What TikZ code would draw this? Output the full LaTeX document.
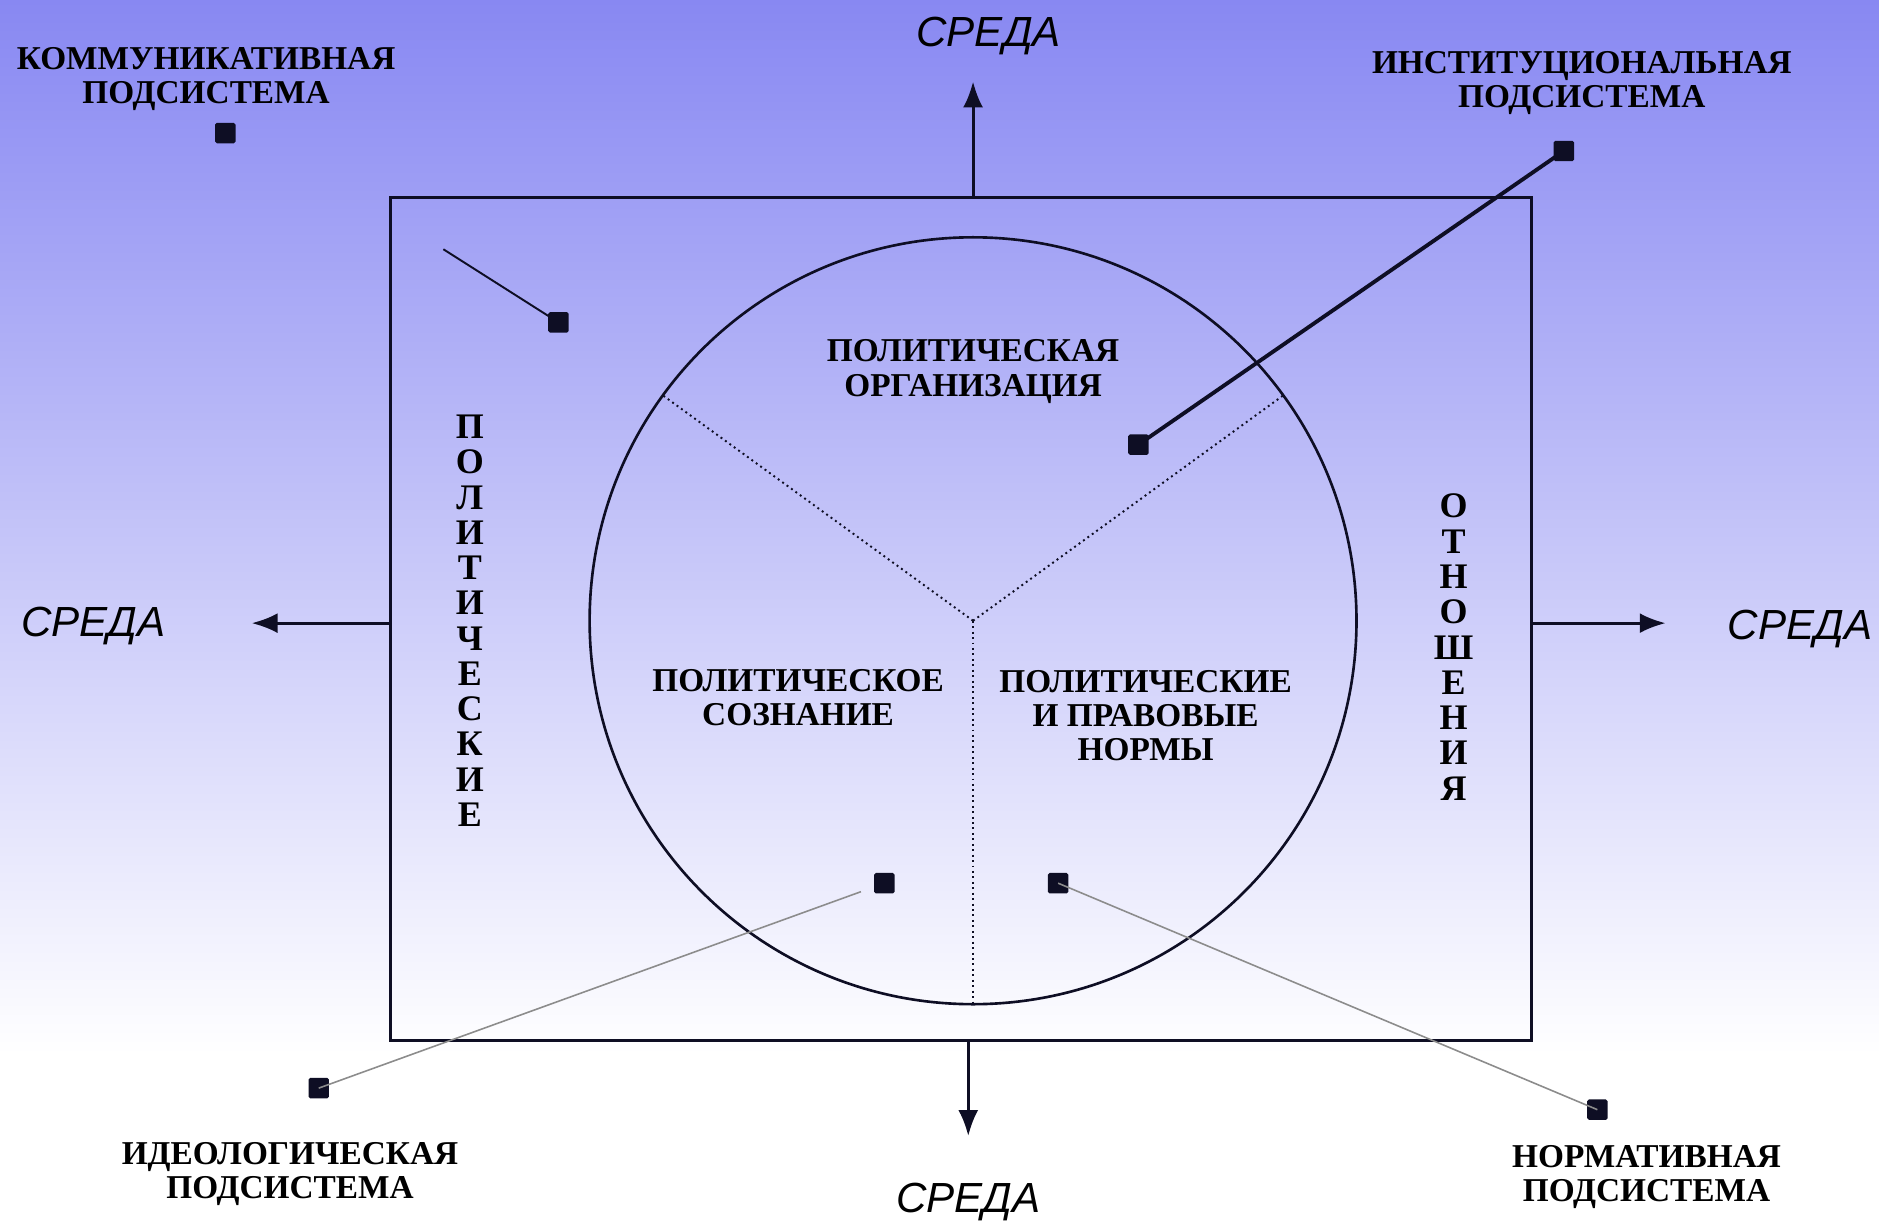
\documentclass[tikz,border=0pt]{standalone}
\usepackage{fontspec}
\setmainfont{Liberation Serif}
\newfontfamily\envfont{Liberation Sans}
\usepackage{tikz}
\usetikzlibrary{calc}
\usetikzlibrary{arrows.meta,positioning}
\definecolor{bgtop}{RGB}{136,136,242}
\definecolor{ink}{RGB}{14,14,36}

\tikzset{
  lbl/.style={font=\bfseries\fontsize{19}{19.5}\selectfont, align=center, inner sep=0pt},
  vlbl/.style={font=\bfseries\fontsize{20.5}{20.1}\selectfont, align=center, inner sep=0pt},
  env/.style={font=\envfont\itshape\fontsize{24}{26}\selectfont, inner sep=0pt},
  marker/.style={fill=ink, minimum size=0.41cm, inner sep=0pt, rounded corners=1pt},
  envarrow/.style={ink, line width=1.7pt, -{Latex[length=0.52cm,width=0.4cm]}},
  sector/.style={ink, dotted, line width=1.1pt},
  faint/.style={black!45, line width=0.9pt}
}

\begin{document}
\begin{tikzpicture}[x=0.024cm, y=-0.024cm]
        \useasboundingbox (0,0) rectangle (1568,1020);
        % background
        \shade[top color=bgtop, bottom color=white] (0,0) rectangle (1568,880);
        \fill[white] (0,880) rectangle (1568,1020);

        % frame and circle
        \coordinate (fnw) at (326,165);
        \coordinate (fse) at (1278,868);
        \coordinate (c) at (812,518);
        \draw[ink, line width=1.8pt] (fnw) rectangle (fse);
        \draw[ink, line width=1.5pt] (c) circle[radius=7.68cm];
        % sectors (y axis points down, so angles are negated)
        \draw[sector] (c) -- ++(-144:320);
        \draw[sector] (c) -- ++(-36:320);
        \draw[sector] (c) -- ++(90:318);

        % environment
        \node[env] (envN) at (825,30) {СРЕДА};
        \node[env] (envW) at (78,522) {СРЕДА};
        \node[env] (envE) at (1502,525) {СРЕДА};
        \node[env] (envS) at (808,1003) {СРЕДА};
        \coordinate (tipN) at (812,68);
        \coordinate (tipW) at (210,520);
        \coordinate (tipE) at (1390,520);
        \coordinate (tipS) at (808,948);
        \draw[envarrow] (fnw -| tipN) -- (tipN);
        \draw[envarrow] (fnw |- tipW) -- (tipW);
        \draw[envarrow] (fse |- tipE) -- (tipE);
        \draw[envarrow] (fse -| tipS) -- (tipS);

        % parts of the system
        \node[lbl] (org) at (812,310) {ПОЛИТИЧЕСКАЯ\\ОРГАНИЗАЦИЯ};
        \node[lbl] (soz) at (666,582) {ПОЛИТИЧЕСКОЕ\\СОЗНАНИЕ};
        \node[lbl] (norms) at (956,597) {ПОЛИТИЧЕСКИЕ\\И ПРАВОВЫЕ\\НОРМЫ};
        \node[vlbl] (polit) at (392,518) {П\\О\\Л\\И\\Т\\И\\Ч\\Е\\С\\К\\И\\Е};
        \node[vlbl] (otn) at (1213,540) {О\\Т\\Н\\О\\Ш\\Е\\Н\\И\\Я};

        % subsystems
        \node[lbl] (komm) at (172,66) {КОММУНИКАТИВНАЯ\\ПОДСИСТЕМА};
        \node[lbl] (inst) at (1320,69) {ИНСТИТУЦИОНАЛЬНАЯ\\ПОДСИСТЕМА};
        \node[lbl] (ideo) at (242,980) {ИДЕОЛОГИЧЕСКАЯ\\ПОДСИСТЕМА};
        \node[lbl] (norm) at (1374,982) {НОРМАТИВНАЯ\\ПОДСИСТЕМА};

        \node[marker] (sqKomm) at (188,111) {};
        \node[marker] (sqKommIn) at (466,269) {};
        \node[marker] (sqInst) at (1305,126) {};
        \node[marker] (sqOrg) at (950,371) {};
        \node[marker] (sqIdeo) at (266,908) {};
        \node[marker] (sqSoz) at (738,737) {};
        \node[marker] (sqNormIn) at (883,737) {};
        \node[marker] (sqNorm) at (1333,926) {};

        \coordinate (kommStart) at (370,208);
        \draw[ink, line width=1.1pt] (kommStart) -- (sqKommIn.center);
        \draw[ink, line width=2.2pt] (sqInst.center) -- (sqOrg.center);
        \draw[faint, shorten >=0.5cm] (sqIdeo.center) -- (sqSoz.center);
        \draw[faint] (sqNormIn.center) -- (sqNorm.center);
\end{tikzpicture}
\end{document}
